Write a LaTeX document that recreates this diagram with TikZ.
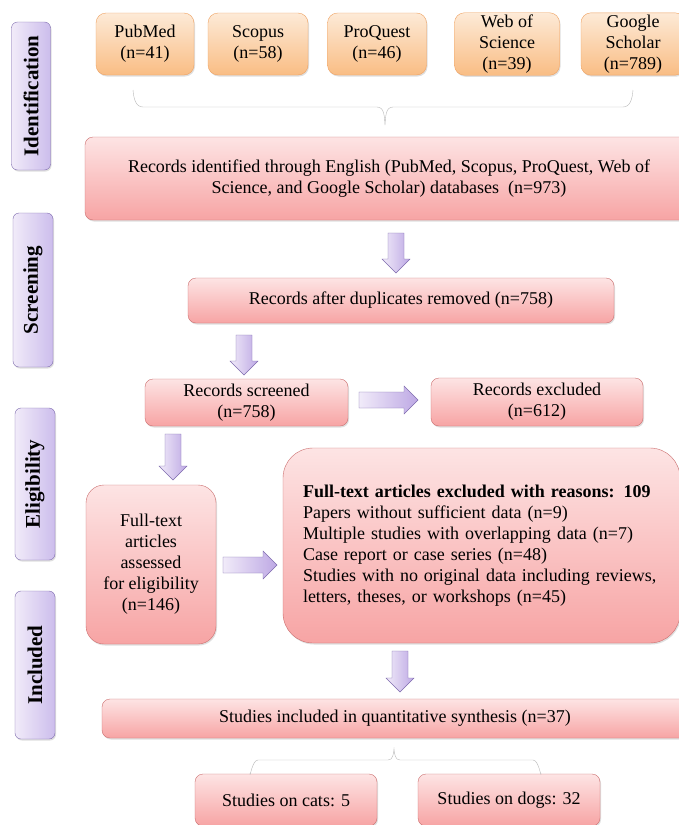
\documentclass[tikz,border=0pt]{standalone}
\usepackage{fontspec}
\setmainfont{Liberation Serif}
\usetikzlibrary{calc,positioning,shadows}
\definecolor{orangetop}{HTML}{FDEAD7}
\definecolor{orangebot}{HTML}{F9BD84}
\definecolor{orangeline}{HTML}{EFA262}
\definecolor{pinktop}{HTML}{FDE4E4}
\definecolor{pinkbot}{HTML}{F7A4A4}
\definecolor{pinkline}{HTML}{CC6F6F}
\definecolor{purptop}{HTML}{F1EBF9}
\definecolor{purpmid}{HTML}{CCBDEC}
\definecolor{purpbot}{HTML}{BDA8E4}
\definecolor{purpline}{HTML}{7E6BAE}
\tikzset{
      base/.style = {draw, thin, align=center, inner sep=2pt,
                     font=\fontsize{18}{21}\selectfont,
                     drop shadow={shadow xshift=1pt, shadow yshift=-1.5pt, opacity=0.25}},
    source/.style = {base, rounded corners=10pt, draw=orangeline,
                     top color=orangetop, bottom color=orangebot},
    record/.style = {base, rounded corners=8pt, draw=pinkline,
                     top color=pinktop, bottom color=pinkbot},
     stage/.style = {base, rotate=90, rounded corners=6pt, draw=purpline,
                     left color=purptop, right color=purpmid,
                     font=\bfseries\fontsize{21}{24}\selectfont},
  blockarr/.style = {draw=purpline, thin, left color=purptop, right color=purpbot,
                     to path={($(\tikztostart)!8pt!90:(\tikztotarget)$)
                       -- ($(\tikztotarget)!14pt!(\tikztostart)!8pt!90:(\tikztotarget)$)
                       -- ($(\tikztotarget)!14pt!(\tikztostart)!14pt!90:(\tikztotarget)$)
                       -- (\tikztotarget)
                       -- ($(\tikztotarget)!14pt!(\tikztostart)!14pt!-90:(\tikztotarget)$)
                       -- ($(\tikztotarget)!14pt!(\tikztostart)!8pt!-90:(\tikztotarget)$)
                       -- ($(\tikztostart)!8pt!-90:(\tikztotarget)$) -- cycle}},
     brace/.style = {draw=gray!55, thin},
}
\begin{document}
\begin{tikzpicture}[x=1pt,y=-1pt]
\fill[white] (0,0) rectangle (679,825);
\useasboundingbox (0,0) rectangle (679,825);
% stages
\node[stage, minimum width=148, minimum height=39] (sid) at (31,96) {Identification};
\node[stage, minimum width=154, minimum height=40] (ssc) at (33,290) {Screening};
\node[stage, minimum width=152, minimum height=40] (sel) at (35,484) {Eligibility};
\node[stage, minimum width=148, minimum height=40] (sin) at (35,665) {Included};
% databases
\path[nodes={source, minimum height=62}]
  (145,44) node[minimum width=98] (pub) {PubMed\\(n=41)}
  (258,44) node[minimum width=100] (sco) {Scopus\\(n=58)}
  (377,44) node[minimum width=99] (pro) {ProQuest\\(n=46)}
  (507,44) node[minimum width=105] (wos) {Web of\\Science\\(n=39)}
  (633,44) node[minimum width=104] (gsc) {Google\\Scholar\\(n=789)};
% records
\node[record, minimum width=608, minimum height=83] (ident) at (389,178.5)
  {Records identified through English (PubMed, Scopus, ProQuest, Web of\\Science, and Google Scholar) databases~ (n=973)};
\node[record, minimum width=426, minimum height=45] (dup) at (401,300.5) {Records after duplicates removed (n=758)};
\node[record, minimum width=203, minimum height=47] (scr) at (246.5,402.5) {Records screened\\(n=758)};
\node[record, minimum width=212, minimum height=48] (exc) at (537,402) {Records excluded\\(n=612)};
\node[record, rounded corners=18pt, minimum width=130, minimum height=159] (full) at (151,564.5)
  {Full-text\\articles\\assessed\\for eligibility\\(n=146)};
\node[record, rounded corners=30pt, minimum width=397, minimum height=195, text width=357, align=left] (why) at (481.5,545.5)
  {\textbf{Full-text articles excluded with reasons: 109}\\
   Papers without sufficient data (n=9)\\
   Multiple studies with overlapping data (n=7)\\
   Case report or case series (n=48)\\
   Studies with no original data including reviews,\\
   letters, theses, or workshops (n=45)};
\node[record, minimum width=586, minimum height=39] (incl) at (395,718.5) {Studies included in quantitative synthesis (n=37)};
\node[record, minimum width=182, minimum height=52] (cats) at (286,800) {Studies on cats: 5};
\node[record, minimum width=182, minimum height=52] (dogs) at (509,800) {Studies on dogs: 32};
% arrow ends
\coordinate (a1s) at (396,233); \coordinate (a1e) at (396,273);
\coordinate (a2s) at (244,335); \coordinate (a2e) at (244,375);
\coordinate (a3s) at (359,400); \coordinate (a3e) at (418,400);
\coordinate (a4s) at (173,434); \coordinate (a4e) at (173,480);
\coordinate (a5s) at (223,565); \coordinate (a5e) at (277,565);
\coordinate (a6s) at (400,651); \coordinate (a6e) at (400,692);
\path[blockarr] (a1s) to (a1e);
\path[blockarr] (a2s) to (a2e);
\path[blockarr] (a3s) to (a3e);
\path[blockarr] (a4s) to (a4e);
\path[blockarr] (a5s) to (a5e);
\path[blockarr] (a6s) to (a6e);
% braces
\coordinate (tbl) at (133,90); \coordinate (tbr) at (633,90); \coordinate (tbt) at (385,125);
\draw[brace] (tbl) to[out=-85,in=180] (143,107) -- (377,107) to[out=0,in=95] (tbt)
  to[out=85,in=180] (393,107) -- (623,107) to[out=0,in=-95] (tbr);
\coordinate (bbl) at (250,773); \coordinate (bbr) at (541,773); \coordinate (bbt) at (394,749);
\draw[brace] (bbl) to[out=-90,in=180] (258,760) -- (388,760) to[out=0,in=-95] (bbt)
  to[out=-85,in=180] (400,760) -- (533,760) to[out=0,in=-90] (bbr);
\end{tikzpicture}
\end{document}
